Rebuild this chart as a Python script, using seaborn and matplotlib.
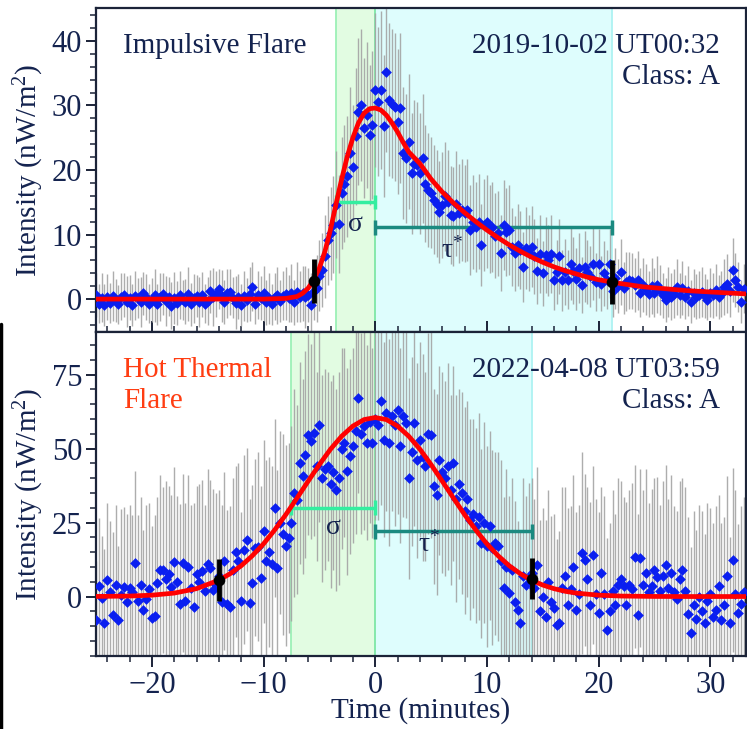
import numpy as np
import pandas as pd
import matplotlib
matplotlib.use("Agg")
import matplotlib.pyplot as plt
import seaborn as sns
from matplotlib.ticker import MultipleLocator
from matplotlib.lines import Line2D

# ---------------- data (time grid: start -25 min, cadence 0.25 min) ----------------
T_START = -25.0
CADENCE = 0.25

top_flux = [
    0.6, -0.7, 0.2, -0.9,   0.3, -0.6, 0.5, -0.2,   -0.8, 0.4, 0.7, -0.4,   0.2, -0.9, 0.5, 0.1,
    -0.5, 0.9, 0.3, -0.7,   -0.1, 0.6, -0.8, 0.3,   0.8, -0.3, 0.4, -1.0,   0.2, -0.6, 0.6, -0.2,
    -0.4, 0.8, -0.8, 0.1,   0.5, -0.5, 0.7, -0.7,   -0.3, 1.2, 0.3, 0.8,    1.6, 0.5, -0.4, 0.9,
    1.1, 0.2, -0.6, 0.4,    -0.9, 0.5, -0.1, 0.8,   1.9, -0.7, 0.6, 0.1,    0.9, -0.5, 0.1, -0.8,
    0.4, 0.6, -0.3, 0.5,    0.8, 0.1, 1.0, -0.5,    1.1, 0.4, 0.9, 0.3,     0.6, -0.9, 1.3, 1.7,
    3.6, 4.5, 6.6, 9.1,     10.2, 11.5, 14.6, 11.7, 16.4, 17.9, 19.0, 22.6, 20.5, 25.2, 29.0, 30.1,
    26.5, 28.5, 25.4, 27.0, 32.4, 30.6, 32.4, 26.8, 35.2, 30.9, 30.3, 29.8, 27.5, 29.6, 22.6, 21.8,
    24.4, 19.5, 21.0, 20.8, 19.5, 21.8, 17.9, 16.9, 16.5, 15.4, 14.8, 13.5, 14.6, 15.9, 15.0, 13.0,
    12.8, 14.8, 13.3, 13.8, 13.3, 13.8, 10.7, 11.9, 11.2, 12.0, 8.4, 11.5,  12.0, 10.9, 11.2, 9.8,
    10.2, 7.1, 11.5, 10.4,  10.7, 8.1, 7.1, 8.4,    7.6, 5.0, 7.9, 7.1,     8.1, 6.6, 4.4, 7.0,
    4.0, 6.8, 6.0, 7.0,     2.9, 4.2, 6.6, 2.9,     4.2, 3.0, 5.5, 4.4,     3.1, 4.8, 2.2, 5.0,
    4.2, 3.5, 5.5, 2.6,     5.5, 2.4, 4.0, 3.0,     5.5, 1.2, 3.2, 2.0,     4.2, 1.7, 2.7, 2.9,
    2.8, 2.2, 2.9, 1.0,     2.2, 1.5, 0.8, 2.0,     1.0, 2.2, 1.4, 0.6,     -0.2, 1.1, 0.4, 0.8,
    1.9, 0.6, 1.7, 0.3,     1.3, -0.4, 0.9, 0.4,    0.7, 1.1, 0.5, -0.1,    1.0, 0.6, 1.4, 0.3,
    0.8, 1.9, 2.4, 1.2,     4.5, 3.0, 1.9, -0.4,    1.6,
]
top_err = [
    3.4, 3.0, 3.8, 3.2,  3.6, 3.1, 3.9, 3.3,  3.0, 3.7, 3.4, 4.0,  3.5, 3.2, 3.8, 3.1,
    3.9, 3.3, 3.6, 3.0,  3.4, 4.1, 3.2, 3.7,  3.3, 3.8, 3.0, 3.6,  4.0, 3.4, 3.7, 3.1,
    3.5, 4.2, 3.3, 3.8,  3.2, 3.9, 3.5, 3.0,  3.7, 3.3, 4.5, 3.6,  3.1, 4.0, 3.4, 3.8,
    3.6, 3.2, 4.1, 3.5,  3.3, 3.9, 3.4, 4.2,  3.8, 3.1, 3.7, 3.4,  4.3, 3.5, 3.9, 3.2,
    3.6, 4.4, 3.3, 3.8,  4.1, 3.7, 4.5, 3.5,  4.6, 3.9, 4.3, 4.8,  4.2, 5.0, 4.6, 5.2,
    5.5, 5.8, 6.4, 6.9,  7.2, 7.5, 8.3, 7.6,  8.7, 9.1, 9.4, 10.2, 9.5, 10.6, 11.4, 11.8,
    10.9, 11.3, 10.8, 11.5, 12.0, 11.6, 12.2, 11.0, 12.4, 11.8, 11.6, 11.5, 11.2, 11.6, 10.2, 10.0,
    10.5, 9.4, 9.8, 9.7, 9.4, 10.0, 9.0, 8.8,  8.6, 8.4, 8.3, 7.9,  8.2, 8.5, 8.1, 7.6,
    7.6, 8.2, 7.7, 7.9,  7.5, 7.9, 7.0, 7.3,  7.0, 7.4, 6.3, 7.1,  7.2, 6.8, 7.0, 6.6,
    6.6, 5.9, 7.0, 6.8,  6.9, 6.0, 5.8, 6.3,  6.1, 5.4, 6.4, 5.9,  6.3, 5.8, 5.1, 6.0,
    5.0, 5.9, 5.5, 6.0,  4.6, 5.0, 5.8, 4.7,  5.1, 4.6, 5.6, 5.2,  4.8, 5.4, 4.3, 5.5,
    5.0, 4.7, 5.6, 4.5,  5.4, 4.3, 5.0, 4.6,  5.4, 3.9, 4.7, 4.2,  5.1, 4.0, 4.6, 4.4,
    4.4, 4.2, 4.6, 3.8,  4.2, 3.9, 3.6, 4.3,  3.8, 4.4, 3.9, 3.5,  3.4, 3.9, 3.6, 3.8,
    4.3, 3.5, 4.2, 3.4,  3.9, 3.3, 3.7, 3.5,  3.6, 3.9, 3.4, 3.2,  3.8, 3.5, 4.0, 3.4,
    3.6, 4.3, 4.6, 3.9,  4.9, 4.2, 3.9, 3.3,  3.8,
]
top_fit_t = [-25, -10, -8, -7, -6.5, -6, -5.5, -5, -4.5, -4, -3.5, -3, -2.5, -2, -1.5, -1, -0.5,
             0, 0.5, 1, 1.5, 2, 2.5, 3, 4, 5, 6, 7, 8, 9, 10, 11, 12, 13, 14, 15, 16, 17, 18,
             19, 20, 21, 22, 24, 26, 28, 30, 33.2]
top_fit_y = [0, 0, 0.1, 0.4, 0.9, 1.7, 3.0, 4.8, 7.4, 10.8, 14.8, 18.6, 22.1, 25.0, 27.3, 28.8, 29.5,
             29.6, 29.3, 28.5, 27.3, 25.9, 24.3, 22.8, 21.0, 18.6, 16.6, 14.9, 13.4, 12.0, 10.7, 9.5,
             8.4, 7.4, 6.5, 5.7, 5.0, 4.4, 3.9, 3.4, 3.0, 2.7, 2.4, 1.9, 1.6, 1.3, 1.1, 0.8]

bot_flux = [
    -7.9, 3.4, -0.5, -9.0,  5.6, 1.5, -6.2, 4.0,   -7.9, 0.5, 3.3, -2.0,   3.0, 1.5, 11.3, -1.5,
    3.8, -4.5, -1.0, 2.5,   -7.2, -6.5, 4.5, 9.0,  9.0, 6.0, 7.5, 3.3,     11.8, 5.0, -2.6, 11.3,
    -1.5, 10.0, 3.0, -3.4,  7.5, 5.0, 8.5, 2.0,    11.0, 9.5, 2.3, 4.0,    7.0, -2.0, 12.0, -2.6,
    -3.5, 9.0, 15.2, 12.0,  -1.6, 15.8, 19.2, -2.2, 4.7, 16.5, 16.9, 6.3,  22.0, 12.0, 15.0, 11.0,
    29.9, 9.6, 25.0, 21.0,  17.2, 19.8, 24.8, 35.0, 32.7, 45.1, 40.6, 47.9, 54.7, 52.4, 55.3, 44.0,
    58.1, 40.0, 43.0, 44.0, 38.0, 42.0, 36.0, 40.0, 50.0, 52.0, 42.3, 47.4, 51.0, 56.0, 67.1, 55.0,
    57.5, 52.0, 59.0, 51.9, 60.0, 58.0, 66.0, 53.0, 62.0, 52.0, 61.0, 58.0, 63.0, 51.0, 61.0, 58.7,
    40.0, 49.0, 58.7, 46.0, 53.0, 47.0, 44.0, 55.0, 54.7, 37.2, 34.4, 46.0, 42.0, 40.0, 44.0, 36.0,
    45.0, 33.0, 38.0, 35.0, 29.0, 33.0, 26.0, 28.0, 24.0, 27.0, 18.0, 25.0, 17.0, 24.0, 16.5, 18.0,
    17.0, 12.0, 2.8, 10.0,  1.1, 9.0, -1.7, -4.5,  -9.0, 7.0, 4.0, 6.5,    8.0, 3.0, 10.7, -5.0,
    0.0, -7.0, 5.0, -1.7,   -4.0, -9.6, -9.0, 3.0, 7.0, -3.0, 2.5, 10.0,   -4.5, 1.0, 14.7, 12.4,
    6.0, -3.0, 14.1, 1.0,   -5.6, 8.0, 1.0, -11.3, -5.0, 2.0, -3.0, 4.0,   6.0, 3.5, -3.0, 4.0,
    2.5, 13.5, -6.2, 13.0,  4.0, 8.0, 1.5, 3.5,    9.0, 6.5, 2.0, 7.0,     10.5, 3.0, 8.0, 1.5,
    -1.0, 6.0, 9.0, 2.0,    -6.0, -12.4, -3.0, -7.5, 0.0, -5.0, -9.0, -1.5, 1.0, -7.0, -4.5, 3.4,
    -8.0, -3.0, 6.8, -9.0,  12.4, 1.0, -5.5, -2.5, 1.5,
]
bot_err = [
    20, 23, 21, 25,  26, 24, 28, 27,  25, 29, 27, 30,  28, 26, 31, 29,
    30, 27, 32, 29,  31, 34, 29, 32,  28, 33, 30, 31,  32, 29, 34, 30,
    33, 31, 28, 35,  30, 33, 31, 29,  32, 30, 34, 31,  29, 33, 30, 32,
    34, 31, 29, 33,  30, 32, 31, 35,  33, 30, 32, 31,  31, 34, 32, 33,
    30, 33, 31, 34,  34, 32, 33, 35,  32, 34, 33, 35,  34, 33, 35, 32,
    33, 35, 34, 32,  35, 33, 34, 36,  34, 32, 35, 33,  33, 35, 32, 34,
    35, 33, 34, 32,  34, 32, 35, 33,  33, 35, 32, 34,  35, 33, 34, 32,
    34, 32, 35, 33,  33, 35, 32, 34,  35, 33, 34, 32,  34, 33, 35, 32,
    33, 35, 32, 34,  35, 33, 34, 32,  33, 35, 32, 34,  34, 32, 33, 31,
    32, 34, 31, 33,  33, 31, 34, 30,  31, 33, 30, 32,  32, 30, 33, 31,
    30, 33, 31, 29,  32, 29, 31, 34,  30, 33, 28, 31,  33, 30, 34, 29,
    31, 35, 30, 32,  34, 29, 33, 31,  30, 34, 31, 36,  33, 30, 35, 32,
    36, 31, 34, 30,  32, 35, 30, 33,  31, 34, 29, 32,  34, 30, 33, 29,
    30, 33, 31, 35,  33, 29, 32, 30,  31, 34, 30, 33,  29, 32, 35, 31,
    33, 30, 34, 29,  31, 35, 30, 33,  32,
]
bot_fit_t = [-25, -22, -20, -18, -16, -14, -13, -12, -11, -10, -9, -8, -7, -6, -5, -4, -3, -2, -1,
             0, 1, 2, 3, 4, 5, 6, 7, 8, 9, 10, 11, 12, 13, 14, 15, 16, 17, 18, 20, 22, 25, 28, 33.2]
bot_fit_y = [0.03, 0.16, 0.46, 1.16, 2.66, 5.53, 7.69, 10.4, 13.8, 17.8, 22.5, 27.7, 33.3, 39.0, 44.6,
             49.8, 54.2, 57.6, 59.8, 60.5, 59.8, 57.6, 54.2, 49.8, 44.6, 39.0, 33.3, 27.7, 22.5, 17.8,
             13.8, 10.4, 7.69, 5.53, 3.88, 2.66, 1.78, 1.16, 0.46, 0.16, 0.03, 0.0, 0.0]

# start / end markers (time, flux, half-length of bar)
top_mark_t = [-5.5, 21.2]
top_mark_y = [2.8, 2.7]
top_mark_e = [3.4, 3.4]
bot_mark_t = [-14.0, 14.0]
bot_mark_y = [5.6, 6.0]
bot_mark_e = [7.0, 7.0]

# sigma / tau* intervals
top_sigma_start, top_tau_end = -3.5, 21.2
bot_sigma_start, bot_tau_end = -7.5, 14.0
top_sigma_level, top_tau_level = 15.0, 11.1
bot_sigma_level, bot_tau_level = 30.0, 22.0

# ---------------- styling ----------------
sns.set_theme(style="ticks")
plt.rcParams["font.family"] = ["Liberation Serif", "DejaVu Serif"]
plt.rcParams["mathtext.fontset"] = "custom"
plt.rcParams["mathtext.rm"] = "Liberation Serif"
plt.rcParams["mathtext.it"] = "Liberation Serif:italic"

NAVY = "#14234f"
SPINE = "#1b2338"
BLUE = "#0a1ef0"
GREEN_SPAN = "#e2fce2"
CYAN_SPAN = "#defdfd"
SIGMA_C = "#33eea0"
TAU_C = "#1b8a80"

W_PX, H_PX = 747, 729
fig = plt.figure(figsize=(W_PX / 100, H_PX / 100), dpi=100)
L = 96 / W_PX
AW = (746 - 96) / W_PX
AH = 324 / H_PX
B2 = (H_PX - 656) / H_PX
ax1 = fig.add_axes([L, B2 + AH, AW, AH])
ax2 = fig.add_axes([L, B2, AW, AH], sharex=ax1)


def panel(ax, flux, err, fit_t, fit_y, mt, my, me, s0, t1, slev, tlev, cap,
          sig_xy, tau_xy, ylim, major, minor):
    flux = np.asarray(flux, float)
    err = np.asarray(err, float)
    t = T_START + CADENCE * np.arange(len(flux))
    df = pd.DataFrame({"t": t, "flux": flux, "err": err})

    ax.axvspan(s0, 0, color=GREEN_SPAN, lw=0, zorder=0)
    ax.axvspan(0, t1, color=CYAN_SPAN, lw=0, zorder=0)
    ax.axvline(s0, color="#9cf0b6", lw=1.3, zorder=0.5)
    ax.axvline(0, color="#7ee6a6", lw=1.3, zorder=0.5)
    ax.axvline(t1, color="#aef2f2", lw=1.3, zorder=0.5)

    ax.vlines(df["t"], df["flux"] - df["err"], df["flux"] + df["err"],
              color="#a4a4a4", lw=1.0, alpha=0.9, zorder=1)

    # interval brackets
    ax.hlines(slev, s0, 0, color=SIGMA_C, lw=2.5, zorder=2)
    ax.vlines([s0, 0], slev - cap, slev + cap, color=SIGMA_C, lw=2.5, zorder=2)
    ax.hlines(tlev, 0, t1, color=TAU_C, lw=2.5, zorder=2)
    ax.vlines([0, t1], tlev - cap, tlev + cap, color=TAU_C, lw=2.5, zorder=2)
    ax.text(sig_xy[0], sig_xy[1], "σ", fontsize=20, color=NAVY, ha="center", va="center", zorder=6)
    ax.text(tau_xy[0], tau_xy[1], "τ$^{*}$", fontsize=20, color=NAVY, ha="center", va="center", zorder=6)

    sns.scatterplot(data=df, x="t", y="flux", marker="D", s=30, color=BLUE,
                    linewidth=0, ax=ax, zorder=3, legend=False)
    fit = pd.DataFrame({"t": fit_t, "y": fit_y})
    sns.lineplot(data=fit, x="t", y="y", color="#ff0000", lw=3.4, ax=ax,
                 estimator=None, sort=False, zorder=4)

    ax.vlines(mt, np.array(my) - np.array(me), np.array(my) + np.array(me),
              color="black", lw=3.5, zorder=5)
    sns.scatterplot(x=mt, y=my, color="black", s=70, linewidth=0, ax=ax, zorder=6, legend=False)

    ax.set_ylim(*ylim)
    ax.yaxis.set_major_locator(MultipleLocator(major))
    ax.yaxis.set_minor_locator(MultipleLocator(minor))
    ax.xaxis.set_major_locator(MultipleLocator(10))
    ax.xaxis.set_minor_locator(MultipleLocator(2))
    ax.set_ylabel("Intensity (nW/m$^2$)", fontsize=21, color=NAVY)
    ax.yaxis.set_label_coords(-0.077, 0.5)
    ax.tick_params(axis="y", which="major", direction="out", length=7, width=1.4,
                   colors=SPINE, labelcolor=NAVY, labelsize=22, pad=3)
    ax.tick_params(axis="y", which="minor", direction="out", length=4, width=1.1, colors=SPINE)
    for sp in ax.spines.values():
        sp.set_color(SPINE)
        sp.set_linewidth(1.6)
        sp.set_visible(True)
    ax.set_xlabel("")


panel(ax1, top_flux, top_err, top_fit_t, top_fit_y, top_mark_t, top_mark_y, top_mark_e,
      top_sigma_start, top_tau_end, top_sigma_level, top_tau_level, 1.1,
      (-1.8, 11.6), (6.9, 7.6), (-5.1, 45.1), 10, 2)
panel(ax2, bot_flux, bot_err, bot_fit_t, bot_fit_y, bot_mark_t, bot_mark_y, bot_mark_e,
      bot_sigma_start, bot_tau_end, bot_sigma_level, bot_tau_level, 2.5,
      (-3.7, 23.3), (4.8, 17.6), (-20.1, 89.4), 25, 5)

ax1.set_xlim(-25, 33.2)
ax1.tick_params(axis="x", which="major", direction="in", length=8, width=1.4,
                colors=SPINE, labelbottom=False)
ax1.tick_params(axis="x", which="minor", direction="in", length=4.5, width=1.1, colors=SPINE)
ax2.tick_params(axis="x", which="major", direction="out", length=8, width=1.4,
                colors=SPINE, labelcolor=NAVY, labelsize=22, pad=3)
ax2.tick_params(axis="x", which="minor", direction="out", length=4.5, width=1.1, colors=SPINE)
ax2.set_xlabel("Time (minutes)", fontsize=21, color=NAVY)
ax2.xaxis.set_label_coords(0.5, -0.128)

# panel annotations
ax1.text(0.042, 0.883, "Impulsive Flare", transform=ax1.transAxes, fontsize=21,
         color=NAVY, ha="left", va="center")
ax1.text(0.96, 0.883, "2019-10-02 UT00:32", transform=ax1.transAxes, fontsize=21,
         color=NAVY, ha="right", va="center")
ax1.text(0.96, 0.787, "Class: A", transform=ax1.transAxes, fontsize=21,
         color=NAVY, ha="right", va="center")
ax2.text(0.042, 0.883, "Hot Thermal", transform=ax2.transAxes, fontsize=21,
         color="#ff3d12", ha="left", va="center")
ax2.text(0.042, 0.787, "Flare", transform=ax2.transAxes, fontsize=21,
         color="#ff3d12", ha="left", va="center")
ax2.text(0.96, 0.883, "2022-04-08 UT03:59", transform=ax2.transAxes, fontsize=21,
         color=NAVY, ha="right", va="center")
ax2.text(0.96, 0.787, "Class: A", transform=ax2.transAxes, fontsize=21,
         color=NAVY, ha="right", va="center")

fig.add_artist(Line2D([0.0015, 0.0015], [0.0, 0.555], transform=fig.transFigure,
                      color="black", lw=2.5))

fig.savefig("out.png", dpi=100)
